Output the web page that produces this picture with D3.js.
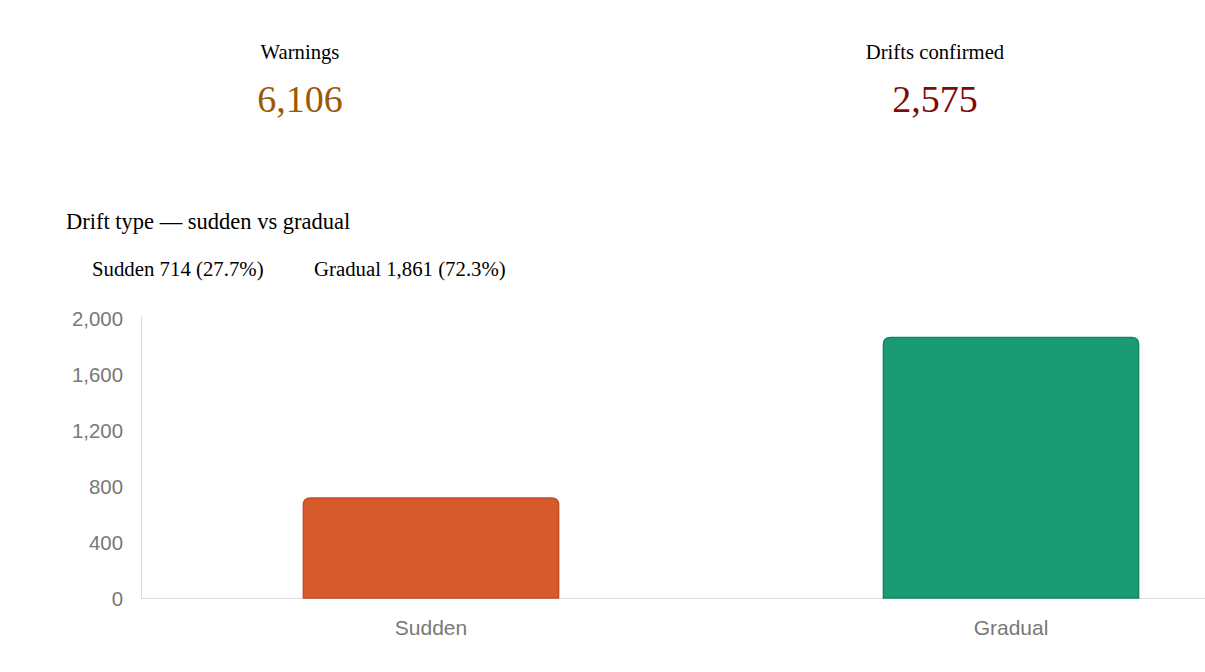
<!DOCTYPE html>
<html>
<head>
<meta charset="utf-8">
<script src="https://cdn.jsdelivr.net/npm/d3@7"></script>
<style>
  html, body { margin: 0; padding: 0; background: #fff; overflow: hidden; }
  svg { display: block; }
  .kpi-label { font-family: "Liberation Serif", "Times New Roman", serif; font-size: 20.7px; fill: #000; }
  .kpi-value { font-family: "Liberation Serif", "Times New Roman", serif; font-size: 38px; }
  .title { font-family: "Liberation Serif", "Times New Roman", serif; font-size: 22.5px; fill: #000; }
  .legend { font-family: "Liberation Serif", "Times New Roman", serif; font-size: 20.8px; fill: #000; }
  .axis text { font-family: "Liberation Sans", Arial, sans-serif; font-size: 20.4px; fill: #787878; }
  .axis path { stroke: #dcdcdc; }
</style>
</head>
<body>
<svg width="1310" height="672"></svg>
<script>
const kpiLabels = ["Warnings", "Drifts confirmed"];
const kpiValues = [6106, 2575];
const kpiColors = ["#9c5a05", "#7f0a0a"];

const categories = ["Sudden", "Gradual"];
const counts = [714, 1861];
const barColors = ["#d75a2d", "#1a9b73"];
const barStrokes = ["#c54b22", "#138563"];
const yTicks = [0, 400, 800, 1200, 1600, 2000];

const svg = d3.select("svg");
const fmt = d3.format(",");
const total = d3.sum(counts);

// KPI header
const kpiX = d3.scalePoint().domain(kpiLabels).range([300, 935]);
kpiLabels.forEach((label, i) => {
    svg.append("text")
        .attr("class", "kpi-label")
        .attr("x", kpiX(label))
        .attr("y", 59)
        .attr("text-anchor", "middle")
        .text(label);
    svg.append("text")
        .attr("class", "kpi-value")
        .attr("x", kpiX(label))
        .attr("y", 112)
        .attr("text-anchor", "middle")
        .attr("fill", kpiColors[i])
        .text(fmt(kpiValues[i]));
});

svg.append("text")
    .attr("class", "title")
    .attr("x", 66)
    .attr("y", 229)
    .text("Drift type \u2014 sudden vs gradual");

const legendX = [92, 314];
categories.forEach((c, i) => {
    svg.append("text")
        .attr("class", "legend")
        .attr("x", legendX[i])
        .attr("y", 276)
        .text(`${c} ${fmt(counts[i])} (${(counts[i] / total * 100).toFixed(1)}%)`);
});

// bar chart
const plot = {left: 141, right: 1301, top: 318, bottom: 598};

const xScale = d3.scaleBand()
    .domain(categories)
    .range([plot.left, plot.right])
    .paddingInner(0.56)
    .paddingOuter(0.28);

const yScale = d3.scaleLinear()
    .domain([0, 2000])
    .range([plot.bottom, plot.top]);

const yAxis = svg.append("g")
    .attr("class", "axis")
    .attr("transform", `translate(${plot.left},0)`)
    .call(d3.axisLeft(yScale).tickValues(yTicks).tickFormat(fmt).tickSize(0).tickPadding(18));
yAxis.selectAll("text").attr("dy", "0.35em");
yAxis.select("path").attr("d", `M0.5,${plot.top - 2}V${plot.bottom}`);

const xAxis = svg.append("g")
    .attr("class", "axis")
    .attr("transform", `translate(0,${plot.bottom})`)
    .call(d3.axisBottom(xScale).tickSize(0).tickPadding(22));
xAxis.select("path").attr("d", `M${plot.left},0.5H${plot.right + 20}`);
xAxis.selectAll("text").style("font-size", "21px");

function topRounded(x, y, w, h, r) {
    return `M${x},${y + h}V${y + r}Q${x},${y} ${x + r},${y}H${x + w - r}Q${x + w},${y} ${x + w},${y + r}V${y + h}Z`;
}

categories.forEach((c, i) => {
    const x = xScale(c);
    const y = yScale(counts[i]);
    svg.append("path")
        .attr("d", topRounded(x, y, xScale.bandwidth(), plot.bottom - y, 7))
        .attr("fill", barColors[i])
        .attr("stroke", barStrokes[i])
        .attr("stroke-width", 1.5);
});
</script>
</body>
</html>
